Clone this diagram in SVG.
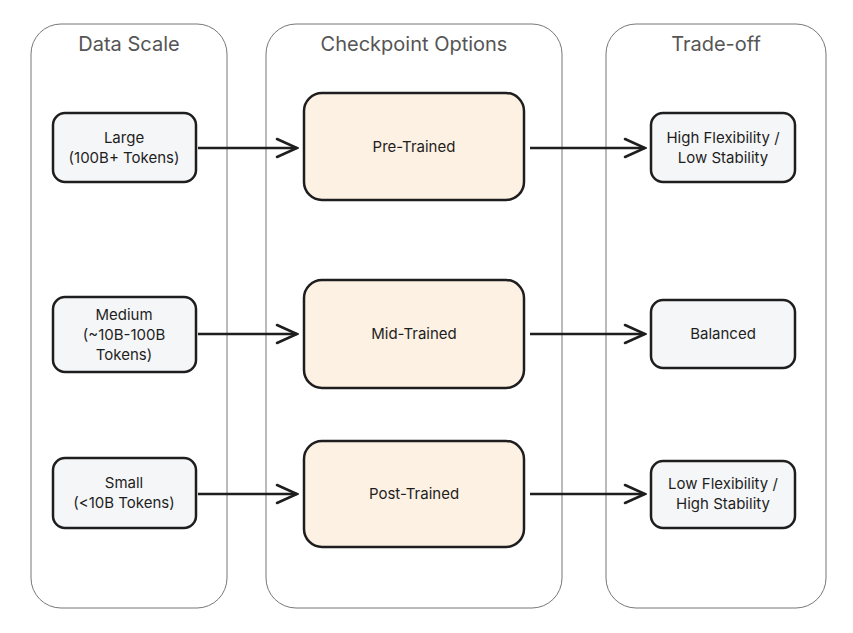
<svg xmlns="http://www.w3.org/2000/svg" width="853" height="633" viewBox="0 0 853 633">
<style>
.lane{fill:#fff;stroke:#777;stroke-width:1}
.lt{font-family:Inter,"Liberation Sans",sans-serif;font-size:20px;fill:#555;text-anchor:middle}
.n{fill:#f5f6f8;stroke:#1e1e1e;stroke-width:2.5}
.c{fill:#fdf1e3;stroke:#1e1e1e;stroke-width:2.5}
.t{font-family:Inter,"Liberation Sans",sans-serif;font-size:15px;fill:#1e1e1e;text-anchor:middle}
.e{stroke:#1e1e1e;stroke-width:2.5;fill:none;marker-end:url(#a)}
</style>
<defs><marker id="a" markerWidth="24" markerHeight="22" refX="22" refY="11" orient="auto" markerUnits="userSpaceOnUse"><path d="M2,2 L22,11 L2,20" fill="none" stroke="#1e1e1e" stroke-width="2.5" stroke-linecap="round"/></marker></defs>
<rect width="853" height="633" fill="#fff"/>
<g id="lane-data"><rect class="lane" x="31" y="24" width="196" height="584" rx="30"/><text class="lt" x="129" y="51">Data Scale</text></g>
<g id="lane-ckpt"><rect class="lane" x="266" y="24" width="296" height="584" rx="30"/><text class="lt" x="414" y="51">Checkpoint Options</text></g>
<g id="lane-trade"><rect class="lane" x="606" y="24" width="220" height="584" rx="30"/><text class="lt" x="716" y="51">Trade-off</text></g>
<g id="connectors">
<path class="e" d="M198,148 L297,148"/><path class="e" d="M530,148 L645,148"/>
<path class="e" d="M198,334 L297,334"/><path class="e" d="M530,334 L645,334"/>
<path class="e" d="M198,494 L297,494"/><path class="e" d="M530,494 L645,494"/>
</g>
<g id="large"><rect class="n" x="53" y="113" width="143" height="69" rx="12"/><text class="t" x="124" y="143">Large</text><text class="t" x="124" y="163">(100B+ Tokens)</text></g>
<g id="medium"><rect class="n" x="53" y="297" width="143" height="75" rx="12"/><text class="t" x="124" y="320">Medium</text><text class="t" x="124" y="340">(~10B-100B</text><text class="t" x="124" y="360">Tokens)</text></g>
<g id="small"><rect class="n" x="53" y="458" width="143" height="70" rx="12"/><text class="t" x="124" y="488">Small</text><text class="t" x="124" y="508">(&lt;10B Tokens)</text></g>
<g id="pre"><rect class="c" x="304" y="93" width="220" height="107" rx="18"/><text class="t" x="414" y="152">Pre-Trained</text></g>
<g id="mid"><rect class="c" x="304" y="280" width="220" height="108" rx="18"/><text class="t" x="414" y="339">Mid-Trained</text></g>
<g id="post"><rect class="c" x="304" y="441" width="220" height="106" rx="18"/><text class="t" x="414" y="499">Post-Trained</text></g>
<g id="high"><rect class="n" x="651" y="113" width="144" height="69" rx="12"/><text class="t" x="723" y="143">High Flexibility /</text><text class="t" x="723" y="163">Low Stability</text></g>
<g id="balanced"><rect class="n" x="651" y="300" width="144" height="68" rx="12"/><text class="t" x="723" y="339">Balanced</text></g>
<g id="low"><rect class="n" x="651" y="461" width="144" height="67" rx="12"/><text class="t" x="723" y="489">Low Flexibility /</text><text class="t" x="723" y="509">High Stability</text></g>
</svg>
